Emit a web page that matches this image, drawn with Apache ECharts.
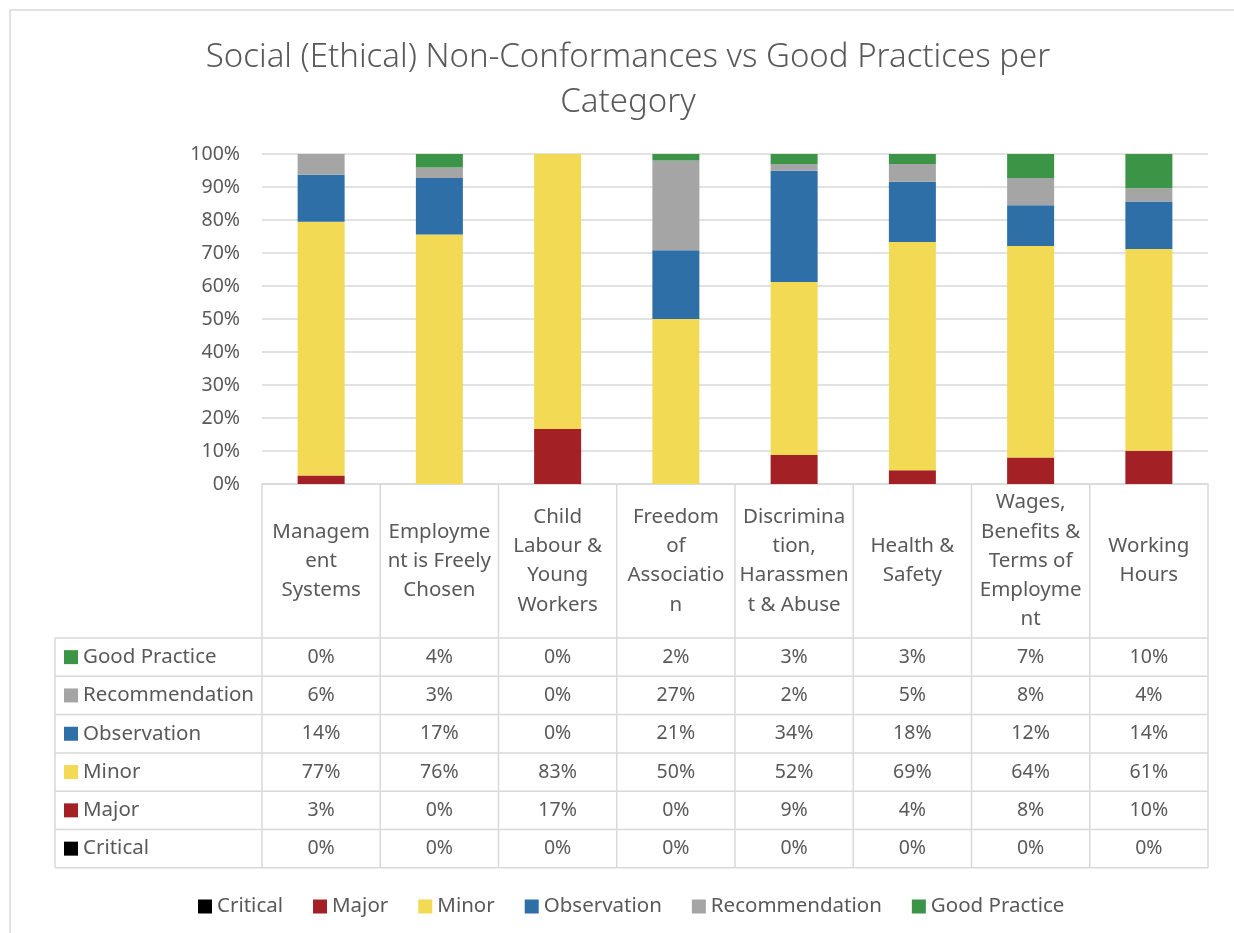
<!DOCTYPE html>
<html>
<head>
<meta charset="utf-8">
<script src="https://cdn.jsdelivr.net/npm/echarts@6/dist/echarts.min.js"></script>
<style>
html, body { margin: 0; padding: 0; background: #fff; }
#main { width: 1234px; height: 933px; }
</style>
</head>
<body>
<div id="main"></div>
<script>
// categories and their wrapped labels as they appear in the table header
var categories = ['Management Systems', 'Employment is Freely Chosen', 'Child Labour & Young Workers',
    'Freedom of Association', 'Discrimination, Harassment & Abuse', 'Health & Safety',
    'Wages, Benefits & Terms of Employment', 'Working Hours'];
var categoryLabels = ['Managem\nent\nSystems', 'Employme\nnt is Freely\nChosen', 'Child\nLabour &\nYoung\nWorkers',
    'Freedom\nof\nAssociatio\nn', 'Discrimina\ntion,\nHarassmen\nt & Abuse', 'Health &\nSafety',
    'Wages,\nBenefits &\nTerms of\nEmployme\nnt', 'Working\nHours'];

// percentages per category (bottom of stack first)
var critical       = [0, 0, 0, 0, 0, 0, 0, 0];
var major          = [2.6, 0, 16.7, 0, 8.8, 4.2, 8.0, 10.1];
var minor          = [76.9, 75.6, 83.3, 50.0, 52.4, 69.1, 64.1, 61.1];
var observation    = [14.2, 17.1, 0, 20.8, 33.7, 18.3, 12.4, 14.4];
var recommendation = [6.3, 3.2, 0, 27.2, 2.1, 5.4, 8.2, 4.0];
var goodPractice   = [0, 4.1, 0, 2.0, 3.0, 3.0, 7.3, 10.4];

var seriesNames = ['Critical', 'Major', 'Minor', 'Observation', 'Recommendation', 'Good Practice'];
var seriesData = [critical, major, minor, observation, recommendation, goodPractice];
var colors = ['#000000', '#a32124', '#f3da55', '#2d6fa6', '#a5a5a5', '#3c9546'];

var textColor = '#595959';
var lineColor = '#d9d9d9';
var font = 'Noto Sans';

var gridLeft = 262, gridTop = 154, gridWidth = 946, gridHeight = 330;
var headerBottom = 638, rowH = 38.3, tableLeft = 55;

var myChart = echarts.init(document.getElementById('main'));

var series = seriesNames.map(function (name, i) {
    return {
        name: name,
        type: 'bar',
        stack: 'total',
        barWidth: 47,
        data: seriesData[i],
        itemStyle: { color: colors[i] }
    };
});

var option = {
    backgroundColor: '#fff',
    animation: false,
    textStyle: { fontFamily: font },
    title: {
        text: 'Social (Ethical) Non-Conformances vs Good Practices per\nCategory',
        left: 623,
        textAlign: 'center',
        top: 30,
        textStyle: { fontFamily: font, fontSize: 33, fontWeight: 300, color: textColor, lineHeight: 45 }
    },
    legend: {
        top: 891,
        left: 193,
        icon: 'rect',
        itemWidth: 14,
        itemHeight: 14,
        itemGap: 30,
        textStyle: { fontFamily: font, fontSize: 20.5, color: textColor },
        data: seriesNames
    },
    grid: { left: gridLeft, top: gridTop, width: gridWidth, height: gridHeight },
    xAxis: {
        type: 'category',
        data: categories,
        axisLine: { lineStyle: { color: lineColor, width: 1.5 } },
        axisTick: { show: false },
        axisLabel: {
            interval: 0,
            margin: 77,
            verticalAlign: 'middle',
            fontFamily: font,
            fontSize: 20.5,
            lineHeight: 29.3,
            color: textColor,
            formatter: function (v, i) { return categoryLabels[i]; }
        }
    },
    yAxis: {
        type: 'value',
        min: 0,
        max: 100,
        interval: 10,
        axisLine: { show: false },
        axisTick: { show: false },
        splitLine: { lineStyle: { color: lineColor, width: 1.5 } },
        axisLabel: { formatter: '{value}%', fontFamily: font, fontSize: 19.5, color: textColor, margin: 22 }
    },
    series: series
};

myChart.setOption(option);

// data table under the plot, placed from the axis positions
var graphics = [];
var centers = categories.map(function (c, i) { return myChart.convertToPixel({ xAxisIndex: 0 }, i); });
var half = (centers[1] - centers[0]) / 2;
var colEdges = centers.map(function (c) { return c - half; });
colEdges.push(centers[centers.length - 1] + half);
var tableBottom = headerBottom + rowH * seriesNames.length;
var lineStyle = { stroke: lineColor, lineWidth: 1.5 };

colEdges.forEach(function (x) {
    graphics.push({ type: 'line', shape: { x1: x, y1: gridTop + gridHeight, x2: x, y2: tableBottom }, style: lineStyle, silent: true });
});
graphics.push({ type: 'line', shape: { x1: tableLeft, y1: headerBottom, x2: tableLeft, y2: tableBottom }, style: lineStyle, silent: true });
for (var r = 0; r <= seriesNames.length; r++) {
    var y = headerBottom + rowH * r;
    graphics.push({ type: 'line', shape: { x1: tableLeft, y1: y, x2: colEdges[colEdges.length - 1], y2: y }, style: lineStyle, silent: true });
}

for (var k = 0; k < seriesNames.length; k++) {
    var si = seriesNames.length - 1 - k;
    var cy = headerBottom + rowH * k + rowH / 2;
    graphics.push({ type: 'rect', shape: { x: 64, y: cy - 7, width: 14, height: 14 }, style: { fill: colors[si] }, silent: true });
    graphics.push({
        type: 'text', x: 83, y: cy,
        style: { text: seriesNames[si], fill: textColor, font: '20.5px "' + font + '"', verticalAlign: 'middle', align: 'left' },
        silent: true
    });
    seriesData[si].forEach(function (v, ci) {
        graphics.push({
            type: 'text', x: centers[ci], y: cy,
            style: { text: Math.round(v) + '%', fill: textColor, font: '19.5px "' + font + '"', verticalAlign: 'middle', align: 'center' },
            silent: true
        });
    });
}

// chart area border
graphics.push({ type: 'rect', shape: { x: 10, y: 10, width: 1240, height: 940 }, style: { fill: null, stroke: lineColor, lineWidth: 1.5 }, silent: true, z: -1 });

myChart.setOption({ graphic: graphics });
</script>
</body>
</html>
